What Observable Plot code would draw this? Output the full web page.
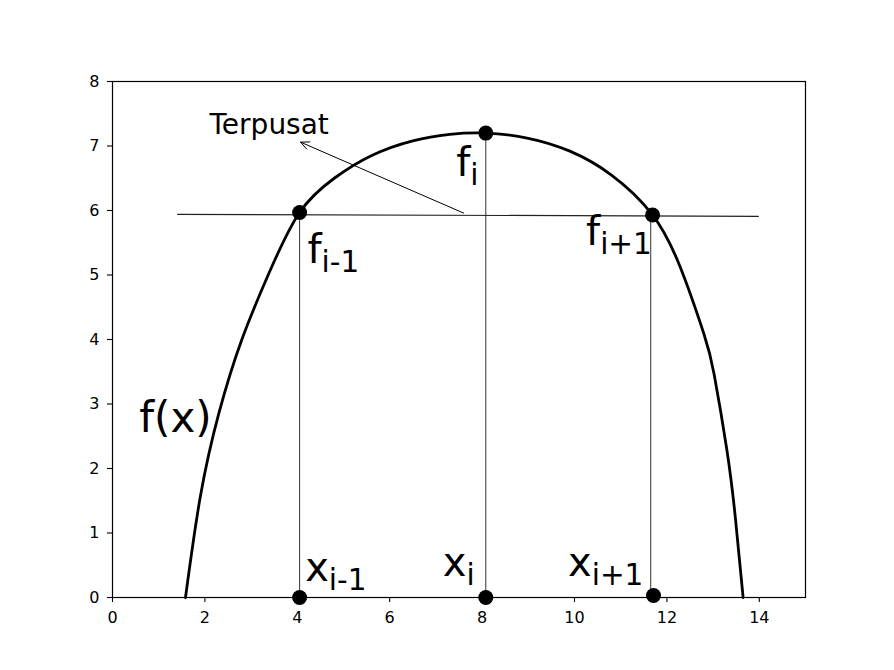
<!DOCTYPE html>
<html><head><meta charset="utf-8">
<script src="https://cdn.jsdelivr.net/npm/d3@7"></script>
<script src="https://cdn.jsdelivr.net/npm/@observablehq/plot@0.6"></script>
<style>body{margin:0;background:#fff;} svg{display:block;}</style>
</head><body><div id="chart"></div>
<script>
// f(x) curve samples
const curveX = [1.58, 1.90, 2.30, 2.80, 3.40, 4.05, 4.80, 5.60, 6.50, 7.30, 8.07, 9.00, 9.90, 10.80, 11.68, 12.29, 12.80, 13.02, 13.30, 13.48, 13.65];
const curveY = [0.00, 1.56, 2.85, 4.00, 5.05, 5.97, 6.50, 6.85, 7.08, 7.18, 7.20, 7.12, 6.92, 6.55, 5.94, 5.12, 4.09, 3.47, 2.28, 1.25, 0.00];
// marker points
const pointX = [4.05, 8.08, 11.69, 4.05, 8.08, 11.71];
const pointY = [5.97, 7.20, 5.93, 0.00, 0.00, 0.03];
// vertical guide lines
const stemX = [4.05, 8.08, 11.65];
const stemTop = [5.97, 7.20, 5.92];
const stemBottom = [0.00, 0.00, 0.03];
// horizontal chord
const chordX = [1.41, 13.98];
const chordY = [5.94, 5.91];
// arrow
const arrowX1 = [7.60], arrowY1 = [5.96], arrowX2 = [4.07], arrowY2 = [7.06];
// labels (base_subscript)
const labelText = ["f_i-1", "f_i", "f_i+1", "x_i-1", "x_i", "x_i+1"];
const labelX = [4.22, 7.44, 10.25, 4.17, 7.15, 9.86];
const labelY = [5.18, 6.54, 5.46, 0.26, 0.34, 0.34];
const funcText = ["f(x)"];
const funcX = [0.58];
const funcY = [2.56];
const noteText = ["Terpusat"];
const noteX = [2.10];
const noteY = [7.19];
// ticks
const xTicks = [0, 2, 4, 6, 8, 10, 12, 14];
const yTicks = [0, 1, 2, 3, 4, 5, 6, 7, 8];

const curve = curveX.map((x, i) => ({x, y: curveY[i]}));
const points = pointX.map((x, i) => ({x, y: pointY[i]}));
const stems = stemX.map((x, i) => ({x, y1: stemBottom[i], y2: stemTop[i]}));
const chord = chordX.map((x, i) => ({x, y: chordY[i]}));
const arrows = arrowX1.map((x1, i) => ({x1, y1: arrowY1[i], x2: arrowX2[i], y2: arrowY2[i]}));
const labels = labelText.map((t, i) => ({t, x: labelX[i], y: labelY[i]}));
const funcs = funcText.map((t, i) => ({t, x: funcX[i], y: funcY[i]}));
const notes = noteText.map((t, i) => ({t, x: noteX[i], y: noteY[i]}));

const svg = Plot.plot({
  width: 894,
  height: 670,
  marginLeft: 112,
  marginRight: 89,
  marginTop: 81,
  marginBottom: 73,
  style: {fontFamily: "'DejaVu Sans', sans-serif", fontSize: "16px", color: "black", background: "white"},
  x: {domain: [0, 15]},
  y: {domain: [0, 8]},
  marks: [
    Plot.axisX({ticks: xTicks, tickSize: 5, tickPadding: 9, label: null, fontSize: 16, stroke: "black", strokeWidth: 1.1}),
    Plot.axisY({ticks: yTicks, tickSize: 5, tickPadding: 8, label: null, fontSize: 16, stroke: "black", strokeWidth: 1.1}),
    Plot.ruleX(stems, {x: "x", y1: "y1", y2: "y2", stroke: "#333", strokeWidth: 1}),
    Plot.line(chord, {x: "x", y: "y", stroke: "#222", strokeWidth: 1.2}),
    Plot.arrow(arrows, {x1: "x1", y1: "y1", x2: "x2", y2: "y2", stroke: "black", strokeWidth: 1, headLength: 14, headAngle: 50}),
    Plot.line(curve, {x: "x", y: "y", curve: "natural", stroke: "black", strokeWidth: 2.8}),
    Plot.dot(points, {x: "x", y: "y", r: 7.5, fill: "black", stroke: "none"}),
    Plot.text(notes, {x: "x", y: "y", text: "t", textAnchor: "start", lineAnchor: "bottom", fontSize: 28, fill: "black"}),
    Plot.text(funcs, {x: "x", y: "y", text: "t", textAnchor: "start", lineAnchor: "bottom", fontSize: 42, fill: "black"}),
    Plot.text(labels, {x: "x", y: "y", text: "t", textAnchor: "start", lineAnchor: "bottom", fontSize: 40, fill: "black"}),
    Plot.frame({stroke: "black", strokeWidth: 1.2})
  ]
});

d3.select(svg).selectAll("text").each(function () {
  if (this.querySelector("tspan")) return;
  const t = this.textContent;
  const k = t.indexOf("_");
  if (k < 0) return;
  const base = t.slice(0, k), sub = t.slice(k + 1);
  this.textContent = base;
  d3.select(this).append("tspan").attr("font-size", 29.5).attr("dy", 9).text(sub);
});

document.getElementById("chart").appendChild(svg);
</script>
</body></html>
